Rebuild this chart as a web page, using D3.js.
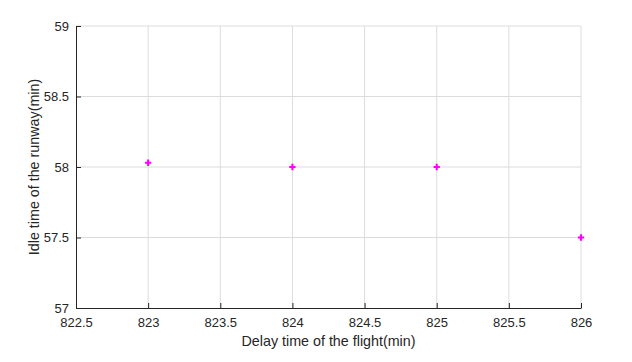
<!DOCTYPE html>
<html><head><meta charset="utf-8">
<script src="https://cdn.jsdelivr.net/npm/d3@7"></script>
<style>body{margin:0;background:#fff;}svg{display:block;font-family:"Liberation Sans",Arial,sans-serif;}</style>
</head><body>
<script>
const delay = [823, 824, 825, 826];
const idle = [58.03, 58.0, 58.0, 57.5];
const xTicks = [822.5, 823, 823.5, 824, 824.5, 825, 825.5, 826];
const yTicks = [57, 57.5, 58, 58.5, 59];

const W = 632, H = 362;
const m = {left: 76, right: W - 581, top: 26, bottom: H - 308};
const svg = d3.select("body").append("svg").attr("width", W).attr("height", H);
const x = d3.scaleLinear().domain([822.5, 826]).range([m.left, W - m.right]);
const y = d3.scaleLinear().domain([57, 59]).range([H - m.bottom, m.top]);

// grid
svg.append("g").selectAll("line").data(xTicks.slice(1)).join("line")
  .attr("x1", d => x(d)).attr("x2", d => x(d)).attr("y1", y(57)).attr("y2", y(59))
  .attr("stroke", "#dcdcdc").attr("stroke-width", 1);
svg.append("g").selectAll("line").data(yTicks.slice(1)).join("line")
  .attr("x1", x(822.5)).attr("x2", x(826)).attr("y1", d => y(d)).attr("y2", d => y(d))
  .attr("stroke", "#dcdcdc").attr("stroke-width", 1);

// axes
const xAxis = d3.axisBottom(x).tickValues(xTicks).tickSizeInner(-5).tickSizeOuter(0).tickPadding(10)
  .tickFormat(d => d3.format("")(d));
const gx = svg.append("g").attr("transform", `translate(0,${y(57)})`).call(xAxis);
const yAxis = d3.axisLeft(y).tickValues(yTicks).tickSizeInner(-5).tickSizeOuter(0).tickPadding(7)
  .tickFormat(d => d3.format("")(d));
const gy = svg.append("g").attr("transform", `translate(${x(822.5)},0)`).call(yAxis);
[gx, gy].forEach(g => {
  g.select(".domain").attr("stroke", "#262626");
  g.selectAll(".tick line").attr("stroke", "#262626");
  g.selectAll(".tick text").attr("fill", "#262626").attr("font-size", 13).attr("font-family", '"Liberation Sans",Arial,sans-serif');
});

// points (plus markers)
const sym = d3.symbol().type(d3.symbolCross).size(22);
svg.append("g").selectAll("path").data(delay).join("path")
  .attr("transform", (d, i) => `translate(${x(d)},${y(idle[i])})`)
  .attr("d", sym).attr("fill", "#ff00ff");

// labels
svg.append("text").attr("x", (x(822.5) + x(826)) / 2).attr("y", 346)
  .attr("text-anchor", "middle").attr("font-size", 14.3).attr("fill", "#262626")
  .text("Delay time of the flight(min)");
svg.append("text").attr("transform", `translate(39,${(y(57) + y(59)) / 2}) rotate(-90)`)
  .attr("text-anchor", "middle").attr("font-size", 14.3).attr("fill", "#262626")
  .text("Idle time of the runway(min)");
</script>
</body></html>
